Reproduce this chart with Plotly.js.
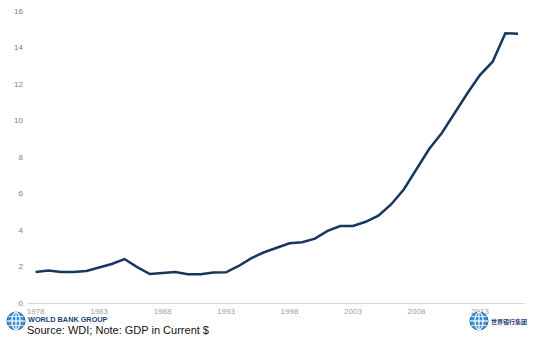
<!DOCTYPE html>
<html><head><meta charset="utf-8">
<script src="https://cdn.plot.ly/plotly-3.0.1.min.js"></script>
<style>html,body{margin:0;padding:0;background:#fff}#c{width:539px;height:339px}</style>
</head><body><div id="c"></div>
<script>
const years = [];
for (let y = 1978; y <= 2016; y++) years.push(y);
const gdp = [1.70,1.78,1.70,1.70,1.75,1.95,2.14,2.41,1.97,1.59,1.64,1.70,1.57,1.57,1.67,1.68,2.03,2.46,2.78,3.03,3.27,3.33,3.53,3.95,4.22,4.22,4.45,4.79,5.40,6.22,7.32,8.44,9.32,10.41,11.48,12.49,13.22,14.78,14.76];
const xTicks = [1978,1983,1988,1993,1998,2003,2008,2013];
const yTicks = [0,2,4,6,8,10,12,14,16];

const L=28, T=11, W=497, H=292;
const px = x => (x - L) / W, py = y => (T + H - y) / H;
const font = 'Liberation Sans, Arial, sans-serif';

function globe(cx, cy, r) {
  const s = [];
  const base = {xref:'paper', yref:'paper', xsizemode:'pixel', ysizemode:'pixel', xanchor:px(cx), yanchor:py(cy)};
  s.push(Object.assign({type:'circle', x0:-r, x1:r, y0:-r, y1:r, fillcolor:'#3a8fd0', line:{color:'#1d5f9c', width:1}}, base));
  s.push(Object.assign({type:'circle', x0:-r*0.45, x1:r*0.45, y0:-r, y1:r, line:{color:'#ffffff', width:1.2}}, base));
  s.push(Object.assign({type:'line', x0:-r, x1:r, y0:0, y1:0, line:{color:'#ffffff', width:1.2}}, base));
  s.push(Object.assign({type:'line', x0:0, x1:0, y0:-r, y1:r, line:{color:'#ffffff', width:1.2}}, base));
  s.push(Object.assign({type:'line', x0:-r*0.85, x1:r*0.85, y0:r*0.5, y1:r*0.5, line:{color:'#ffffff', width:0.8}}, base));
  s.push(Object.assign({type:'line', x0:-r*0.85, x1:r*0.85, y0:-r*0.5, y1:-r*0.5, line:{color:'#ffffff', width:0.8}}, base));
  return s;
}

const shapes = [].concat(globe(16, 321, 9), globe(479, 321, 9));

const annotations = [
  {xref:'paper', yref:'paper', x:px(26), y:py(320), xanchor:'left', yanchor:'middle', showarrow:false,
   text:'<b>WORLD BANK GROUP</b>', font:{family:font, size:7.3, color:'#1b3f73'}},
  {xref:'paper', yref:'paper', x:px(25), y:py(330), xanchor:'left', yanchor:'middle', showarrow:false,
   text:'Source: WDI; Note: GDP in Current $', font:{family:font, size:11, color:'#111111'}},
  {xref:'paper', yref:'paper', x:px(489), y:py(321), xanchor:'left', yanchor:'middle', showarrow:false,
   text:'<b>世界银行集团</b>', font:{family:'Noto Sans CJK SC', size:6, color:'#1b3f73'}}
];

Plotly.newPlot('c', [{
  x: years, y: gdp, type:'scatter', mode:'lines',
  line:{color:'#17375e', width:2.5}, hoverinfo:'skip'
}], {
  width:539, height:339,
  margin:{l:L, r:539-L-W, t:T, b:339-T-H, pad:0},
  paper_bgcolor:'#ffffff', plot_bgcolor:'#ffffff',
  showlegend:false,
  xaxis:{range:[1977.4, 2016.55], tickvals:xTicks, ticktext:xTicks.map(String), showgrid:false, zeroline:false,
    showline:true, linecolor:'#d9d9d9', linewidth:1, ticks:'', ticklen:0,
    tickfont:{family:font, size:8, color:'#a0a0a0'}},
  yaxis:{range:[0,16], tickvals:yTicks, showgrid:false, zeroline:false, showline:false, ticks:'',
    ticklabelstandoff:4, tickfont:{family:font, size:8, color:'#808080'}},
  shapes: shapes,
  annotations: annotations
}, {displayModeBar:false, staticPlot:true});
</script></body></html>
